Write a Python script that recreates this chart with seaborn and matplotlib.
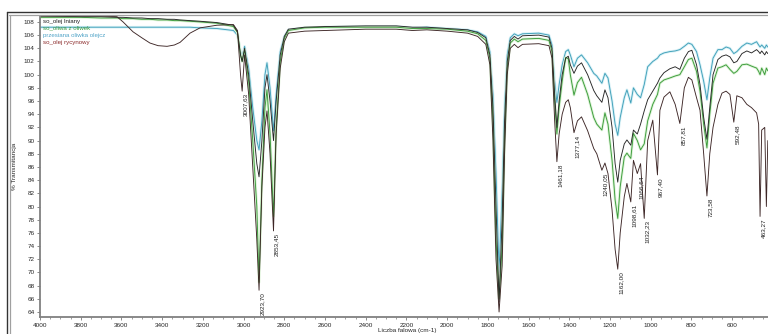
import numpy as np
import pandas as pd
import seaborn as sns
import matplotlib.pyplot as plt
import matplotlib.patheffects as pe
from matplotlib.lines import Line2D
from matplotlib.ticker import MultipleLocator

# wavenumber grid (cm-1), shared by the four spectra
wavenumber = [
    4000, 3800, 3700, 3622, 3592, 3543, 3500, 3460, 3420, 3376, 3340, 3312, 3263, 3214, 3131, 3050,
    3030, 3015, 3007, 2995, 2975, 2955, 2935, 2924, 2910, 2895, 2885, 2870, 2853, 2840, 2820, 2800, 2780,
    2700, 2600, 2400, 2250, 2170, 2100, 2000, 1900, 1850, 1810, 1790, 1775, 1760, 1745, 1730, 1718, 1705, 1690,
    1670, 1652, 1630, 1550, 1500, 1485, 1472, 1461, 1450, 1435, 1418, 1405, 1395, 1377, 1360, 1340, 1310,
    1280, 1265, 1240, 1225, 1210, 1190, 1175, 1162, 1150, 1130, 1117, 1098, 1085, 1066, 1050, 1032, 1015,
    990, 967, 955, 935, 906, 880, 857, 835, 815, 798, 775, 758, 740, 724, 710, 694, 670, 650, 630, 611,
    592, 577, 552, 528, 505, 480, 470, 463, 455, 440, 432, 425,
]

# % transmittance of each sample
lniany = [
    108.9, 108.8, 108.8, 108.7, 108.7, 108.6, 108.6, 108.5, 108.5, 108.4, 108.4, 108.3, 108.2, 108.1, 107.9, 107.5,
    106.5, 103.0, 102.0, 104.0, 100.0, 93.0, 86.5, 84.5, 90.0, 98.0, 100.0, 96.0, 90.0, 96.0, 103.0, 105.8, 106.9,
    107.2, 107.3, 107.4, 107.4, 107.2, 107.2, 107.0, 106.8, 106.4, 105.6, 103.0, 95.0, 80.0, 65.5, 78.0, 93.0, 102.0, 105.2,
    105.8, 105.4, 105.9, 106.0, 105.7, 104.0, 97.0, 92.0, 96.0, 100.0, 102.5, 102.8, 101.5, 100.2, 101.3, 101.8, 100.0,
    97.6, 96.8, 95.8, 97.7, 96.5, 92.0, 86.5, 83.7, 87.0, 89.5, 90.1, 89.3, 91.6, 91.0, 92.5, 94.5, 96.2,
    97.5, 98.7, 99.5, 100.3, 100.9, 101.2, 100.8, 102.5, 103.5, 103.7, 101.5, 98.5, 93.5, 90.2, 95.0, 100.0, 102.3, 102.8, 103.0, 102.7,
    101.8, 102.0, 103.2, 103.6, 103.3, 103.8, 103.5, 103.2, 103.6, 103.0, 103.5, 103.2,
]
oliwa = [
    108.7, 108.7, 108.6, 108.6, 108.5, 108.5, 108.4, 108.4, 108.3, 108.3, 108.2, 108.2, 108.1, 108.0, 107.8, 107.3,
    106.4, 103.0, 102.0, 103.8, 99.0, 90.0, 80.0, 68.5, 84.0, 95.0, 97.7, 91.0, 78.5, 92.0, 102.0, 105.5, 106.7,
    107.1, 107.2, 107.2, 107.2, 107.0, 107.0, 106.9, 106.6, 106.2, 105.2, 102.5, 93.0, 75.0, 66.0, 74.0, 90.0, 101.0, 104.8,
    105.4, 105.0, 105.4, 105.5, 105.2, 103.5, 96.0, 91.0, 95.0, 99.0, 102.6, 102.4, 100.0, 96.9, 98.8, 99.6, 97.0,
    93.5, 92.5, 91.6, 94.2, 92.5, 87.0, 81.0, 78.2, 83.0, 87.5, 88.1, 87.3, 91.1, 90.0, 88.6, 89.5, 93.0,
    95.5, 97.0, 98.7, 99.2, 99.5, 99.8, 100.0, 101.2, 102.3, 102.5, 100.5, 97.5, 92.5, 88.9, 94.0, 98.7, 101.0, 101.2, 101.5, 100.8,
    100.2, 100.5, 101.5, 101.6, 101.3, 101.0, 100.5, 100.0, 101.0, 100.0, 101.0, 100.6,
]
przesiana = [
    107.2, 107.2, 107.2, 107.2, 107.2, 107.2, 107.2, 107.2, 107.2, 107.2, 107.2, 107.2, 107.2, 107.1, 107.0, 106.7,
    106.0, 103.5, 102.8, 104.3, 101.0, 95.0, 90.0, 88.6, 93.0, 100.0, 101.8, 98.0, 91.5, 97.0, 103.5, 105.8, 106.8,
    107.1, 107.2, 107.3, 107.3, 107.1, 107.2, 107.0, 106.8, 106.5, 105.8, 103.5, 97.0, 85.0, 70.0, 82.0, 95.0, 103.0, 105.6,
    106.2, 105.9, 106.2, 106.3, 106.0, 104.5, 99.0, 95.8, 98.5, 101.5, 103.5, 103.8, 103.0, 101.2, 102.5, 103.0, 101.8,
    100.2, 99.8, 98.7, 100.2, 99.5, 96.0, 92.5, 90.8, 93.5, 96.5, 97.7, 95.7, 98.0, 97.0, 96.5, 98.5, 101.2,
    102.0, 102.5, 103.0, 103.3, 103.5, 103.6, 103.8, 104.3, 104.8, 104.6, 103.5, 101.5, 99.0, 96.2, 99.5, 102.5, 103.8, 103.8, 104.2, 104.0,
    103.2, 103.5, 104.3, 104.8, 104.6, 105.0, 104.5, 104.2, 104.5, 104.0, 104.5, 104.2,
]
rycynowy = [
    108.9, 108.9, 108.9, 108.8, 108.0, 106.5, 105.6, 104.8, 104.4, 104.3, 104.5, 104.9, 106.3, 107.1, 107.5, 107.6,
    106.7, 100.0, 97.5, 103.0, 97.0, 86.0, 75.0, 67.3, 83.0, 92.0, 94.5, 88.0, 76.3, 91.0, 101.0, 105.0, 106.3,
    106.6, 106.7, 106.9, 106.9, 106.7, 106.8, 106.6, 106.3, 105.8, 104.6, 101.5, 90.0, 72.0, 64.0, 71.0, 88.0, 100.0, 104.0,
    104.6, 104.1, 104.6, 104.7, 104.4, 102.5, 93.0, 86.8, 91.0, 94.0, 95.8, 96.2, 95.0, 91.2, 93.0, 93.6, 91.5,
    88.8, 88.0, 85.5, 86.6, 85.0, 79.5, 73.5, 70.5, 76.0, 81.5, 83.5, 80.7, 87.0, 85.0, 86.5, 78.2, 90.0,
    93.1, 84.8, 94.6, 96.6, 97.4, 95.5, 92.6, 98.0, 99.6, 99.2, 96.5, 94.6, 88.0, 81.6, 88.0, 92.0, 95.5, 97.2, 97.5, 97.0,
    92.8, 96.8, 96.5, 95.5, 95.0, 94.2, 92.5, 78.5, 91.6, 92.0, 80.0, 90.0,
]

samples = ["so_olej lniany", "so_oliwa z oliwek", "przesiana oliwka olejcz", "so_olej rycynowy"]
colors = ["#262626", "#3a9a3a", "#3f9fb8", "#3d2626"]
legend_colors = ["#222222", "#3c9a3c", "#4fa3c7", "#8b2a2a"]

# peaks marked on the castor oil spectrum
peak_wn = [3007, 2924, 2853, 1461, 1377, 1240, 1162, 1098, 1066, 1032, 967, 857, 724, 592, 463]
peak_labels = ["3007,63", "2923,70", "2853,45", "1461,18", "1377,14", "1240,05", "1162,00", "1098,61",
               "1066,64", "1032,23", "967,40", "857,81", "723,58", "592,48", "463,27"]

df = pd.DataFrame({
    "wavenumber": wavenumber * 4,
    "T": lniany + oliwa + przesiana + rycynowy,
    "sample": np.repeat(samples, len(wavenumber)),
})

sns.set_theme("paper", style="white")
plt.rcParams["font.family"] = ["Liberation Sans Narrow", "Liberation Sans", "DejaVu Sans"]

fig = plt.figure(figsize=(7.68, 3.34), dpi=100)
ax = fig.add_axes([40 / 768, 17 / 334, 728 / 768, 301 / 334])

draw_order = [samples[2], samples[1], samples[0], samples[3]]
palette = dict(zip(samples, colors))
sns.lineplot(data=df, x="wavenumber", y="T", hue="sample", hue_order=draw_order,
             palette=palette, estimator=None, sort=True, linewidth=0.65, legend=False, ax=ax)

# soft halo round the light spectra
halos = {samples[2]: "#d6f0f6", samples[1]: "#dcf3d6"}
for line, name in zip(ax.lines, draw_order):
    if name in halos:
        line.set_path_effects([pe.Stroke(linewidth=1.9, foreground=halos[name]), pe.Normal()])

lookup = dict(zip(wavenumber, rycynowy))
for wn, lab in zip(peak_wn, peak_labels):
    ax.annotate(lab, xy=(wn, lookup[wn]), xytext=(2.5, -1.5), textcoords="offset points",
                rotation=90, ha="center", va="top", fontsize=4.6, color="#222222")

for i, (name, c) in enumerate(zip(samples, legend_colors)):
    ax.text(0.004, 0.983 - i * 0.0235, name, color=c, fontsize=4.4, va="center",
            transform=ax.transAxes)

ax.set_xlim(4000, 424)
ax.set_ylim(63.24, 108.9)
ax.xaxis.set_major_locator(MultipleLocator(200))
ax.xaxis.set_minor_locator(MultipleLocator(50))
ax.yaxis.set_major_locator(MultipleLocator(2))
ax.tick_params(axis="both", which="major", labelsize=4.6, length=2, width=0.6,
               color="#777777", pad=2, bottom=True, left=True)
ax.tick_params(axis="x", which="minor", length=1.2, width=0.5, color="#777777", bottom=True)

ax.set_xlabel("Liczba falowa (cm-1)", fontsize=4.6)
ax.set_ylabel("% Transmitancja", fontsize=4.6)
ax.xaxis.set_label_coords(0.505, -0.035)
ax.yaxis.set_label_coords(-0.032, 0.5)

sns.despine(ax=ax)
for side in ["left", "bottom"]:
    ax.spines[side].set_color("#808080")
    ax.spines[side].set_linewidth(1.3)

# outer double frame of the instrument window
fig.add_artist(Line2D([7 / 768, 1], [1 - 12 / 334] * 2, transform=fig.transFigure, color="#333333", lw=1.0))
fig.add_artist(Line2D([9 / 768, 1], [1 - 14.5 / 334] * 2, transform=fig.transFigure, color="#a0a0a0", lw=0.9))
fig.add_artist(Line2D([7 / 768] * 2, [0, 1 - 12 / 334], transform=fig.transFigure, color="#333333", lw=1.0))
fig.add_artist(Line2D([9.5 / 768] * 2, [0, 1 - 14.5 / 334], transform=fig.transFigure, color="#a0a0a0", lw=0.9))

fig.savefig("out.png", dpi=100)
